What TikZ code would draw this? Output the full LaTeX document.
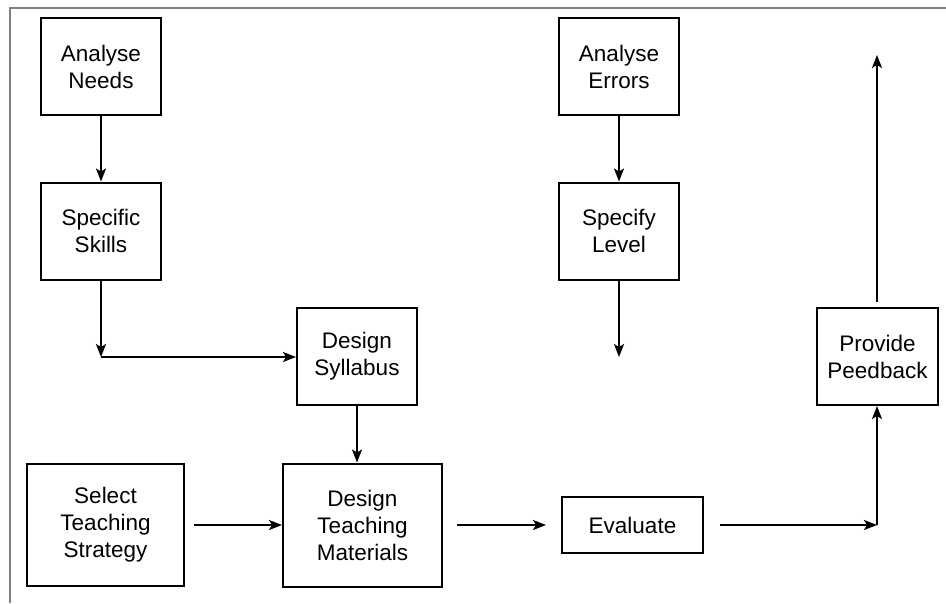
\documentclass[tikz,border=0pt]{standalone}
\usepackage{fontspec}
\setmainfont{Liberation Sans}
\usetikzlibrary{positioning,arrows.meta}
\tikzset{
    stage/.style={draw, line width=2pt, align=center, inner sep=0pt,
        minimum width=120pt, minimum height=97pt,
        font=\fontsize{22.5}{27}\selectfont},
    flow/.style={line width=2pt, -{Stealth[length=13pt,width=10pt,inset=3pt]}}
}

\begin{document}
\begin{tikzpicture}[x=1pt, y=-1pt]
        \useasboundingbox (0,0) rectangle (946,603);
        \draw[gray, line width=1.5pt] (10,603) -- (10,8) -- (946,8);

        \node[stage] (AnalyseNeeds) at (101,66.5) {Analyse\\Needs};
        \node[stage] (SpecificSkills) at (101,231) {Specific\\Skills};
        \node[stage] (DesignSyllabus) at (357,356.5) {Design\\Syllabus};
        \node[stage, minimum width=157pt, minimum height=122pt] (SelectStrategy) at (105.5,525) {Select\\Teaching\\Strategy};
        \node[stage, minimum width=159pt, minimum height=123pt] (DesignMaterials) at (362.5,525) {Design\\Teaching\\Materials};
        \node[stage, minimum width=141pt, minimum height=56pt] (Evaluate) at (632.5,525) {Evaluate};
        \node[stage] (AnalyseErrors) at (619,66.5) {Analyse\\Errors};
        \node[stage] (SpecifyLevel) at (619,231) {Specify\\Level};
        \node[stage, minimum width=121pt] (ProvideFeedback) at (877.5,356.5) {Provide\\Peedback};

        % free ends and corners
        \coordinate (skillsCorner) at (101,357);
        \coordinate (levelEnd) at (619,357);
        \coordinate (evalCorner) at (877,525);
        \coordinate (feedbackEnd) at (877,55);

        \draw[flow] (AnalyseNeeds) -- (SpecificSkills);
        \draw[flow] (SpecificSkills) -- (skillsCorner);
        \draw[flow] (skillsCorner) -- (DesignSyllabus.west |- skillsCorner);
        \draw[flow] (DesignSyllabus.south) -- (DesignSyllabus.south |- DesignMaterials.north);
        \draw[flow, shorten <=9pt] (SelectStrategy.east) -- (DesignMaterials.west);
        \draw[flow, shorten <=14pt, shorten >=15pt] (DesignMaterials.east) -- (Evaluate.west);
        \draw[flow, shorten <=16pt] (Evaluate.east) -- (evalCorner);
        \draw[flow] (evalCorner) -- (evalCorner |- ProvideFeedback.south);
        \draw[flow, shorten <=5pt] (evalCorner |- ProvideFeedback.north) -- (feedbackEnd);
        \draw[flow] (AnalyseErrors) -- (SpecifyLevel);
        \draw[flow] (SpecifyLevel) -- (levelEnd);
    \end{tikzpicture}
\end{document}
